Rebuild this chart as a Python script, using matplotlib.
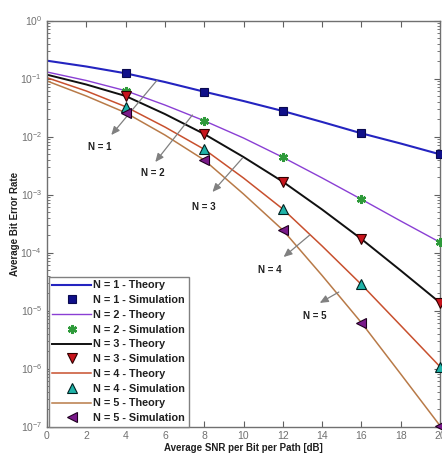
import matplotlib
matplotlib.use("Agg")
import matplotlib.pyplot as plt
from matplotlib.ticker import LogLocator, NullFormatter

# ---------------- data ----------------
snr_theory = [0, 2, 4, 6, 8, 10, 12, 14, 16, 18, 20]
ber_n1 = [0.2027, 0.1610, 0.1229, 0.0870, 0.0592, 0.0409, 0.0275, 0.0178, 0.01135, 0.00757, 0.00493]
ber_n2 = [0.1294, 0.0924, 0.0616, 0.0349, 0.0187, 0.00942, 0.00438, 0.00193, 8.27e-4, 3.49e-4, 1.50e-4]
ber_n3 = [0.1163, 0.0788, 0.0499, 0.0244, 0.01104, 4.43e-3, 1.663e-3, 5.51e-4, 1.709e-4, 4.89e-5, 1.363e-5]
ber_n4 = [0.1032, 0.0609, 0.03265, 0.01458, 6.016e-3, 1.925e-3, 5.62e-4, 1.294e-4, 2.808e-5, 5.51e-6, 1.074e-6]
ber_n5 = [0.0906, 0.0499, 0.02572, 0.01061, 3.934e-3, 1.020e-3, 2.443e-4, 4.012e-5, 6.163e-6, 8.04e-7, 1.032e-7]

snr_sim = [4, 8, 12, 16, 20]
sim_n1 = [0.1229, 0.0592, 0.0275, 0.01135, 0.00493]
sim_n2 = [0.0616, 0.0187, 0.00438, 8.27e-4, 1.50e-4]
sim_n3 = [0.0499, 0.01104, 1.663e-3, 1.709e-4, 1.363e-5]
sim_n4 = [0.03265, 6.016e-3, 5.62e-4, 2.808e-5, 1.074e-6]
sim_n5 = [0.02572, 3.934e-3, 2.443e-4, 6.163e-6, 1.032e-7]

labels_n = ["N = 1", "N = 2", "N = 3", "N = 4", "N = 5"]

# ---------------- styling ----------------
plt.rcParams['font.family'] = ['Liberation Sans', 'DejaVu Sans']
plt.rcParams['mathtext.fontset'] = 'custom'
plt.rcParams['mathtext.rm'] = 'Liberation Sans'

fig = plt.figure(figsize=(4.42, 4.57), dpi=100)
ax = fig.add_axes([47 / 442, 30.5 / 457, (440 - 47) / 442, (426.5 - 20.5) / 457])

theory = [ber_n1, ber_n2, ber_n3, ber_n4, ber_n5]
sims = [sim_n1, sim_n2, sim_n3, sim_n4, sim_n5]
line_colors = ['#2424c0', '#8a3fd4', '#101010', '#c8502e', '#b87a48']
line_widths = [1.5, 1.0, 1.4, 1.1, 1.1]
mk = ['s', (6, 2, 0), 'v', '^', '<']
mk_face = ['#10108a', '#2e9a3a', '#c8141c', '#1fb3a8', '#7a1a8a']
mk_edge = ['#0a0a50', '#2e9a3a', '#300000', '#002020', '#200020']
mk_size = [6, 6.5, 6.5, 6.5, 6.5]

handles = []
labels = []
for i in range(5):
    ln, = ax.plot(snr_theory, theory[i], color=line_colors[i], lw=line_widths[i])
    if i == 1:
        sm, = ax.plot(snr_sim, sims[i], linestyle='none', marker=mk[i], markersize=mk_size[i],
                      color=mk_face[i], markeredgewidth=1.8, clip_on=False, zorder=5)
    else:
        sm, = ax.plot(snr_sim, sims[i], linestyle='none', marker=mk[i], markersize=mk_size[i],
                      markerfacecolor=mk_face[i], markeredgecolor=mk_edge[i],
                      markeredgewidth=0.8, clip_on=False, zorder=5)
    handles += [ln, sm]
    labels += [labels_n[i] + " - Theory", labels_n[i] + " - Simulation"]

ax.set_yscale('log')
ax.set_xlim(0, 20)
ax.set_ylim(1e-7, 1)
ax.set_xticks(range(0, 21, 2))
ax.yaxis.set_major_locator(LogLocator(base=10, numticks=10))
ax.yaxis.set_minor_locator(LogLocator(base=10, subs=range(2, 10), numticks=10))
ax.yaxis.set_minor_formatter(NullFormatter())
ax.tick_params(which='both', direction='in', top=True, right=True,
               labelsize=7.5, labelcolor='#707070', color='#606060')
ax.tick_params(which='major', length=4, width=0.8)
ax.tick_params(which='minor', length=2, width=0.6)
for s in ax.spines.values():
    s.set_color('#707070')
    s.set_linewidth(1.0)

ax.set_xlabel("Average SNR per Bit per Path [dB]", fontsize=7, fontweight='bold',
              color='#202020', labelpad=1)
ax.set_ylabel("Average Bit Error Rate", fontsize=7, fontweight='bold',
              color='#202020', labelpad=0)

# annotations: (arrow start, arrow end, label position) in data coordinates
ann = [
    ((5.61, 0.0942), (3.27, 0.0106), (2.70, 6.6e-3)),
    ((7.40, 0.0235), (5.51, 3.63e-3), (5.41, 2.35e-3)),
    ((9.95, 4.26e-3), (8.42, 1.105e-3), (7.96, 6.09e-4)),
    ((13.37, 2.0e-4), (12.04, 8.36e-5), (11.33, 4.99e-5)),
    ((14.85, 2.08e-5), (13.88, 1.35e-5), (13.62, 8.04e-6)),
]
for i, (st, en, lb) in enumerate(ann):
    ax.annotate("", xy=en, xytext=st,
                arrowprops=dict(arrowstyle='-|>,head_length=0.5,head_width=0.22',
                                color='#808080', lw=0.9, shrinkA=0, shrinkB=0,
                                mutation_scale=10))
    ax.text(lb[0], lb[1], labels_n[i], fontsize=7, fontweight='bold', color='#202020',
            ha='center', va='center')

leg = ax.legend(handles, labels, loc='lower left', bbox_to_anchor=(0.005, 0.0),
                borderaxespad=0.0, prop={'size': 7.8, 'weight': 'bold'},
                handlelength=3.6, handletextpad=0.2, labelspacing=0.44,
                borderpad=0.3, fancybox=False, framealpha=1, edgecolor='#808080')
leg.get_frame().set_linewidth(1.0)
for t in leg.get_texts():
    t.set_color('#202020')

fig.savefig("out.png", dpi=100)
